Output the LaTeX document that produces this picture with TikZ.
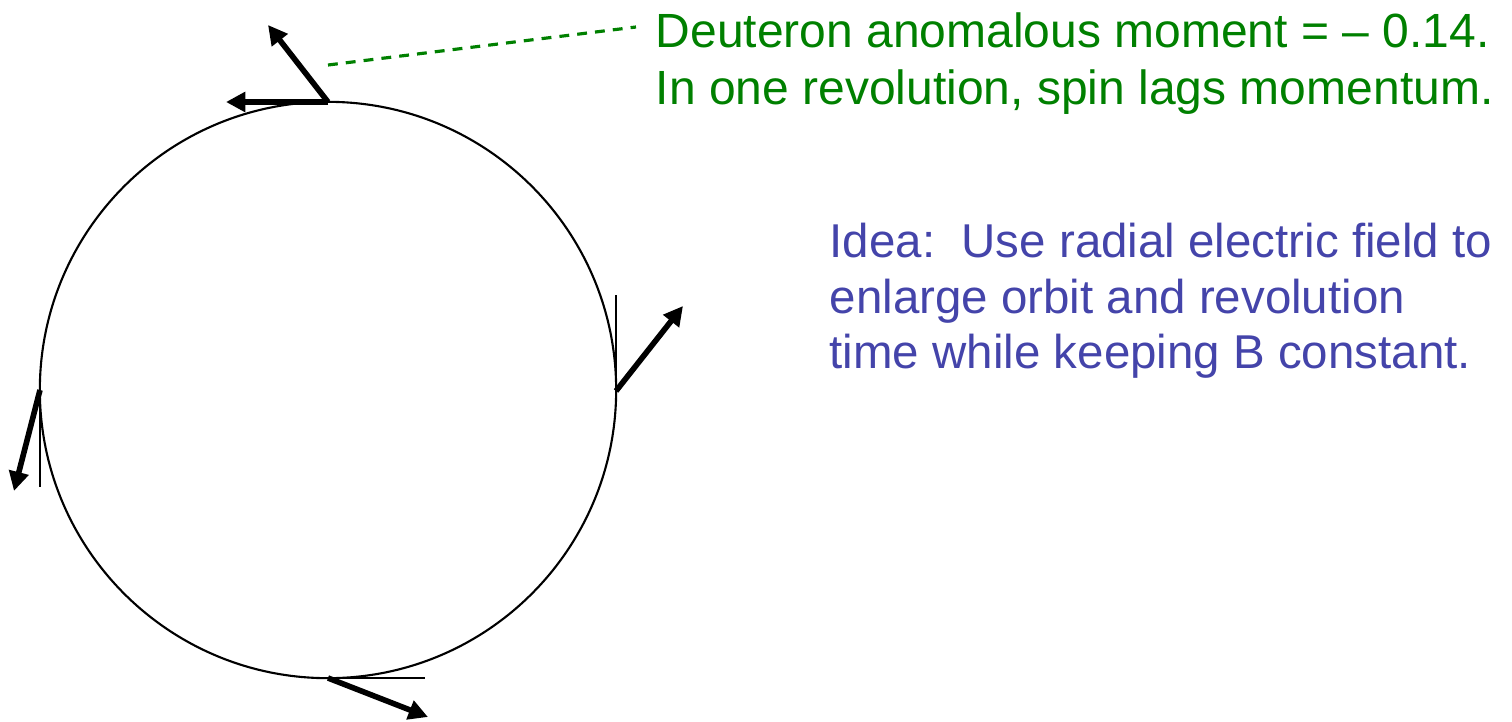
\documentclass[tikz,border=0pt]{standalone}
\usepackage{fontspec}
\setmainfont{Liberation Sans}
\usetikzlibrary{arrows.meta,positioning}
\definecolor{deutgreen}{RGB}{0,128,0}
\definecolor{ideablue}{RGB}{68,68,170}

\begin{document}
\begin{tikzpicture}[x=0.01cm,y=-0.01cm,
        spin/.style={line width=1.6pt,-{Triangle[length=5.5pt,width=5.5pt]}},
        tangent/.style={line width=0.5pt}]
        \useasboundingbox (0,0) rectangle (1512,721);
        % orbit
        \node[draw,circle,line width=0.6pt,minimum size=5.76cm,inner sep=0pt]
              (orbit) at (328,390) {};
        \coordinate (top) at (328,102);
        \coordinate (right) at (616,391);
        \coordinate (left) at (40,390);
        \coordinate (bottom) at (328,678);
        \coordinate (topmom) at (226,102);
        \coordinate (topspin) at (268,25);
        \coordinate (rightmom) at (616,295);
        \coordinate (rightspin) at (683,306);
        \coordinate (leftmom) at (40,487);
        \coordinate (leftspin) at (14,491);
        \coordinate (bottommom) at (425,678);
        \coordinate (bottomspin) at (428,717);

        \draw[spin] (top) -- (topmom);
        \draw[spin] (top) -- (topspin);
        \draw[tangent] (right) -- (rightmom);
        \draw[spin] (right) -- (rightspin);
        \draw[tangent] (left) -- (leftmom);
        \draw[spin] (left) -- (leftspin);
        \draw[tangent] (bottom) -- (bottommom);
        \draw[spin] (bottom) -- (bottomspin);

        % text
        \node[anchor=north west,inner sep=0pt,align=left,text=deutgreen,
              font=\fontsize{13.65pt}{16.2pt}\selectfont] (moment) at (655,12)
              {Deuteron anomalous moment = – 0.14.\\
               In one revolution, spin lags momentum.};
        \node[anchor=north west,inner sep=0pt,align=left,text=ideablue,
              font=\fontsize{13.5pt}{15.9pt}\selectfont] (idea) at (829,222)
              {Idea:\ \ Use radial electric field to\\
               enlarge orbit and revolution\\
               time while keeping B constant.};

        \coordinate (lead) at (328,65);
        \coordinate (leadend) at (636,27);
        \draw[deutgreen,line width=0.9pt,dash pattern=on 2.8pt off 2.3pt]
              (lead) -- (leadend);
\end{tikzpicture}
\end{document}
